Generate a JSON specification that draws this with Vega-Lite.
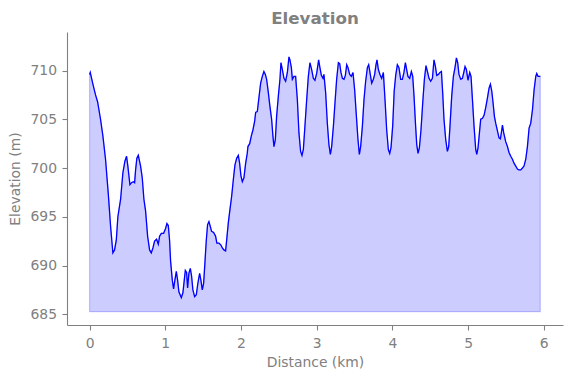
{
  "$schema": "https://vega.github.io/schema/vega-lite/v6.json",
  "autosize": {"type": "none"},
  "padding": {"left": 67, "top": 32, "right": 8, "bottom": 53},
  "width": 496,
  "height": 293,
  "background": "white",
  "title": {"text": "Elevation", "font": "DejaVu Sans", "fontSize": 16.7, "fontWeight": "bold", "color": "#808080", "baseline": "alphabetic", "offset": 8, "dy": 17},
  "data": {"values": [
    {"d":0.000,"e":709.6},{"d":0.009,"e":709.8},{"d":0.044,"e":708.6},{"d":0.079,"e":707.5},{"d":0.106,"e":706.8},{"d":0.145,"e":705.0},{"d":0.176,"e":703.3},{"d":0.211,"e":700.9},{"d":0.247,"e":697.4},{"d":0.278,"e":694.0},{"d":0.308,"e":691.3},{"d":0.330,"e":691.6},{"d":0.353,"e":692.6},{"d":0.374,"e":695.0},{"d":0.410,"e":696.8},{"d":0.440,"e":699.5},{"d":0.467,"e":700.7},{"d":0.489,"e":701.2},{"d":0.506,"e":700.2},{"d":0.533,"e":698.3},{"d":0.555,"e":698.5},{"d":0.578,"e":698.6},{"d":0.595,"e":698.5},{"d":0.608,"e":699.8},{"d":0.625,"e":701.0},{"d":0.644,"e":701.3},{"d":0.674,"e":700.2},{"d":0.696,"e":699.0},{"d":0.718,"e":696.8},{"d":0.740,"e":695.6},{"d":0.767,"e":693.0},{"d":0.793,"e":691.6},{"d":0.815,"e":691.3},{"d":0.837,"e":691.8},{"d":0.859,"e":692.5},{"d":0.885,"e":692.7},{"d":0.908,"e":692.2},{"d":0.925,"e":693.0},{"d":0.948,"e":693.3},{"d":0.978,"e":693.3},{"d":1.004,"e":693.8},{"d":1.022,"e":694.3},{"d":1.040,"e":694.1},{"d":1.057,"e":692.6},{"d":1.070,"e":690.5},{"d":1.093,"e":688.5},{"d":1.110,"e":687.6},{"d":1.127,"e":688.5},{"d":1.146,"e":689.4},{"d":1.163,"e":688.5},{"d":1.180,"e":687.3},{"d":1.212,"e":686.7},{"d":1.233,"e":687.2},{"d":1.251,"e":688.5},{"d":1.265,"e":689.5},{"d":1.282,"e":689.3},{"d":1.295,"e":687.7},{"d":1.312,"e":689.2},{"d":1.331,"e":689.7},{"d":1.348,"e":688.9},{"d":1.365,"e":687.5},{"d":1.388,"e":686.8},{"d":1.410,"e":687.0},{"d":1.431,"e":688.2},{"d":1.454,"e":689.2},{"d":1.471,"e":688.5},{"d":1.489,"e":687.5},{"d":1.507,"e":688.2},{"d":1.524,"e":690.3},{"d":1.542,"e":692.6},{"d":1.559,"e":694.2},{"d":1.577,"e":694.5},{"d":1.595,"e":694.0},{"d":1.612,"e":693.5},{"d":1.639,"e":693.4},{"d":1.665,"e":693.0},{"d":1.682,"e":692.3},{"d":1.709,"e":692.3},{"d":1.735,"e":692.1},{"d":1.754,"e":691.8},{"d":1.775,"e":691.6},{"d":1.797,"e":691.5},{"d":1.811,"e":692.6},{"d":1.833,"e":694.4},{"d":1.854,"e":695.7},{"d":1.877,"e":697.1},{"d":1.899,"e":698.8},{"d":1.920,"e":700.3},{"d":1.943,"e":701.0},{"d":1.965,"e":701.3},{"d":1.982,"e":700.5},{"d":2.000,"e":699.2},{"d":2.018,"e":698.6},{"d":2.039,"e":699.0},{"d":2.062,"e":700.5},{"d":2.083,"e":701.5},{"d":2.092,"e":702.2},{"d":2.115,"e":702.5},{"d":2.137,"e":703.3},{"d":2.158,"e":703.9},{"d":2.181,"e":704.8},{"d":2.194,"e":705.7},{"d":2.216,"e":705.8},{"d":2.237,"e":707.2},{"d":2.260,"e":708.7},{"d":2.282,"e":709.4},{"d":2.303,"e":709.9},{"d":2.322,"e":709.6},{"d":2.339,"e":709.1},{"d":2.362,"e":707.7},{"d":2.383,"e":706.3},{"d":2.405,"e":705.0},{"d":2.422,"e":703.3},{"d":2.436,"e":702.2},{"d":2.454,"e":702.9},{"d":2.471,"e":705.3},{"d":2.494,"e":707.4},{"d":2.515,"e":709.1},{"d":2.528,"e":710.8},{"d":2.547,"e":710.1},{"d":2.568,"e":709.2},{"d":2.590,"e":708.9},{"d":2.613,"e":709.8},{"d":2.634,"e":711.4},{"d":2.647,"e":711.1},{"d":2.666,"e":710.3},{"d":2.679,"e":709.1},{"d":2.700,"e":709.4},{"d":2.722,"e":709.4},{"d":2.745,"e":707.0},{"d":2.766,"e":703.6},{"d":2.788,"e":701.7},{"d":2.806,"e":701.3},{"d":2.824,"e":701.9},{"d":2.845,"e":704.3},{"d":2.868,"e":707.0},{"d":2.890,"e":709.4},{"d":2.911,"e":710.8},{"d":2.934,"e":710.1},{"d":2.956,"e":709.2},{"d":2.977,"e":709.0},{"d":3.000,"e":709.7},{"d":3.026,"e":711.1},{"d":3.043,"e":710.3},{"d":3.062,"e":709.5},{"d":3.083,"e":709.2},{"d":3.096,"e":709.6},{"d":3.119,"e":707.7},{"d":3.141,"e":704.6},{"d":3.162,"e":702.4},{"d":3.181,"e":701.4},{"d":3.198,"e":702.2},{"d":3.221,"e":704.3},{"d":3.242,"e":706.7},{"d":3.264,"e":709.1},{"d":3.287,"e":710.8},{"d":3.304,"e":710.7},{"d":3.321,"e":709.8},{"d":3.340,"e":709.2},{"d":3.361,"e":709.1},{"d":3.379,"e":709.5},{"d":3.397,"e":710.6},{"d":3.414,"e":710.3},{"d":3.436,"e":709.6},{"d":3.458,"e":709.4},{"d":3.480,"e":709.8},{"d":3.502,"e":708.0},{"d":3.525,"e":705.3},{"d":3.546,"e":702.9},{"d":3.564,"e":701.4},{"d":3.581,"e":702.2},{"d":3.604,"e":704.3},{"d":3.625,"e":707.0},{"d":3.647,"e":708.9},{"d":3.670,"e":710.3},{"d":3.687,"e":710.6},{"d":3.704,"e":709.8},{"d":3.727,"e":708.7},{"d":3.749,"e":709.1},{"d":3.766,"e":709.6},{"d":3.784,"e":710.6},{"d":3.797,"e":711.1},{"d":3.815,"e":710.1},{"d":3.836,"e":709.6},{"d":3.859,"e":709.2},{"d":3.881,"e":709.8},{"d":3.903,"e":707.0},{"d":3.925,"e":703.9},{"d":3.947,"e":701.9},{"d":3.965,"e":701.5},{"d":3.982,"e":702.1},{"d":4.004,"e":704.3},{"d":4.024,"e":707.9},{"d":4.044,"e":709.5},{"d":4.066,"e":710.6},{"d":4.087,"e":710.3},{"d":4.110,"e":709.1},{"d":4.132,"e":709.1},{"d":4.153,"e":709.8},{"d":4.172,"e":710.8},{"d":4.189,"e":710.1},{"d":4.206,"e":709.4},{"d":4.229,"e":709.2},{"d":4.251,"e":709.9},{"d":4.269,"e":709.4},{"d":4.286,"e":707.4},{"d":4.305,"e":704.6},{"d":4.322,"e":702.4},{"d":4.339,"e":701.5},{"d":4.357,"e":702.1},{"d":4.378,"e":703.9},{"d":4.401,"e":706.7},{"d":4.423,"e":709.1},{"d":4.444,"e":710.5},{"d":4.463,"e":709.9},{"d":4.484,"e":709.2},{"d":4.506,"e":708.9},{"d":4.529,"e":709.2},{"d":4.550,"e":711.1},{"d":4.569,"e":710.4},{"d":4.586,"e":709.5},{"d":4.608,"e":709.6},{"d":4.629,"e":709.8},{"d":4.648,"e":709.9},{"d":4.665,"e":707.7},{"d":4.682,"e":705.0},{"d":4.705,"e":702.9},{"d":4.727,"e":701.7},{"d":4.744,"e":702.2},{"d":4.761,"e":704.3},{"d":4.784,"e":707.4},{"d":4.806,"e":709.4},{"d":4.827,"e":710.3},{"d":4.846,"e":711.3},{"d":4.863,"e":710.8},{"d":4.880,"e":709.6},{"d":4.903,"e":709.1},{"d":4.925,"e":709.2},{"d":4.946,"e":709.9},{"d":4.960,"e":710.4},{"d":4.978,"e":710.1},{"d":4.999,"e":709.0},{"d":5.022,"e":709.8},{"d":5.039,"e":709.4},{"d":5.058,"e":707.0},{"d":5.079,"e":704.3},{"d":5.101,"e":701.9},{"d":5.115,"e":701.4},{"d":5.132,"e":702.1},{"d":5.150,"e":703.6},{"d":5.167,"e":705.0},{"d":5.190,"e":705.1},{"d":5.211,"e":705.4},{"d":5.233,"e":706.2},{"d":5.256,"e":707.2},{"d":5.277,"e":708.2},{"d":5.295,"e":708.6},{"d":5.313,"e":707.9},{"d":5.330,"e":706.7},{"d":5.348,"e":705.3},{"d":5.365,"e":704.6},{"d":5.388,"e":703.8},{"d":5.409,"e":703.1},{"d":5.427,"e":703.0},{"d":5.445,"e":703.9},{"d":5.454,"e":704.4},{"d":5.471,"e":703.6},{"d":5.497,"e":702.7},{"d":5.520,"e":702.2},{"d":5.541,"e":701.6},{"d":5.564,"e":701.2},{"d":5.586,"e":700.9},{"d":5.607,"e":700.5},{"d":5.630,"e":700.2},{"d":5.652,"e":699.9},{"d":5.673,"e":699.8},{"d":5.696,"e":699.8},{"d":5.718,"e":700.0},{"d":5.739,"e":700.2},{"d":5.762,"e":700.9},{"d":5.784,"e":702.2},{"d":5.806,"e":704.1},{"d":5.828,"e":704.6},{"d":5.851,"e":706.0},{"d":5.872,"e":708.0},{"d":5.894,"e":709.4},{"d":5.907,"e":709.7},{"d":5.924,"e":709.4},{"d":5.954,"e":709.4}
  ]},
  "encoding": {
    "x": {"field": "d", "type": "quantitative", "title": "Distance (km)",
      "scale": {"domain": [-0.298, 6.254], "nice": false, "zero": false},
      "axis": {"values": [0,1,2,3,4,5,6], "format": "d", "labelPadding": 6, "titlePadding": 6}},
    "y": {"field": "e", "type": "quantitative", "title": "Elevation (m)",
      "scale": {"domain": [683.9, 713.95], "nice": false, "zero": false},
      "axis": {"values": [685,690,695,700,705,710], "format": "d", "labelPadding": 5.5, "titlePadding": 7}}
  },
  "layer": [
    {"mark": {"type": "area", "fill": "#0000ff", "fillOpacity": 0.2, "stroke": "#0000ff", "strokeOpacity": 0.2, "strokeWidth": 1.2},
     "encoding": {"y2": {"datum": 685.27}}},
    {"mark": {"type": "line", "color": "#0000ff", "strokeWidth": 1.3}}
  ],
  "config": {
    "view": {"stroke": null},
    "axis": {"grid": false, "domainColor": "#808080", "tickColor": "#808080", "labelColor": "#808080", "titleColor": "#808080",
      "labelFont": "DejaVu Sans", "titleFont": "DejaVu Sans", "titleFontWeight": "normal", "labelFontSize": 13.9, "titleFontSize": 13.9,
      "tickSize": 5, "domainWidth": 1.1, "tickWidth": 1.1}
  }
}
